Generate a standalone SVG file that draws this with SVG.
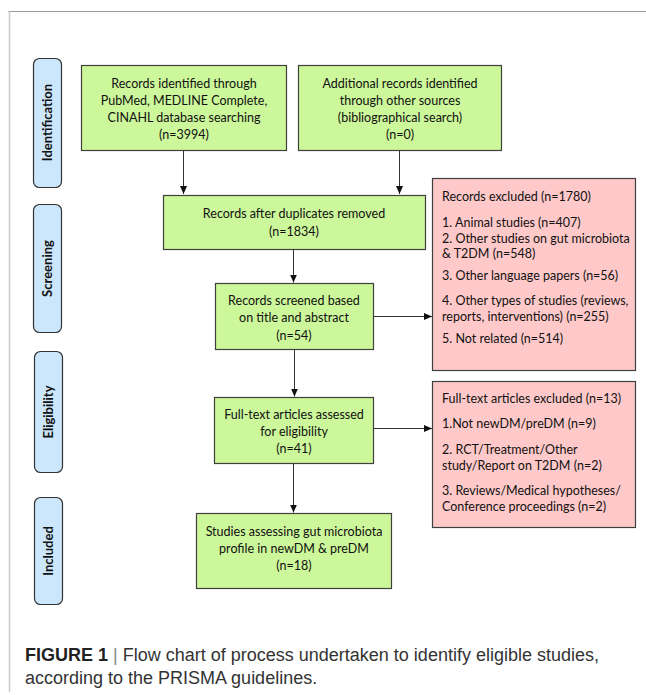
<svg xmlns="http://www.w3.org/2000/svg" width="646" height="695" viewBox="0 0 646 695">
<style>
.g{fill:#ccf79a;stroke:#404040;stroke-width:1.2}
.p{fill:#ffc9c9;stroke:#404040;stroke-width:1.2}
.b{fill:#cce7fb;stroke:#333;stroke-width:1.2}
.t{font-family:Lato,"Open Sans",sans-serif;font-size:12.5px;fill:#111}
.c{text-anchor:middle}
.s{font-family:Lato,"Open Sans",sans-serif;font-size:13px;font-weight:bold;fill:#111;text-anchor:middle}
.cap{font-family:"Liberation Sans",Arial,sans-serif;font-size:18px;fill:#333}
.ln{stroke:#333;stroke-width:1;fill:none}
</style>
<defs>
<marker id="ah" viewBox="0 0 8 8" refX="8" refY="4" markerWidth="8" markerHeight="8" markerUnits="userSpaceOnUse" orient="auto">
<path d="M0,0.5 L8,4 L0,7.5 Z" fill="#111"/>
</marker>
</defs>
<line x1="8" y1="11.5" x2="646" y2="11.5" stroke="#999" stroke-width="1"/>
<line x1="9.5" y1="11" x2="9.5" y2="692" stroke="#ccc" stroke-width="1.5"/>

<g id="lbl-identification"><rect class="b" x="33.5" y="58.5" width="28" height="129" rx="6"/><text class="s" transform="translate(52,122.5) rotate(-90)">Identification</text></g>
<g id="lbl-screening"><rect class="b" x="33.5" y="204.5" width="28" height="128" rx="6"/><text class="s" transform="translate(52,268.5) rotate(-90)">Screening</text></g>
<g id="lbl-eligibility"><rect class="b" x="34.5" y="351.5" width="28" height="121" rx="6"/><text class="s" transform="translate(53,412) rotate(-90)">Eligibility</text></g>
<g id="lbl-included"><rect class="b" x="34.5" y="497.5" width="28" height="107" rx="6"/><text class="s" transform="translate(53,551) rotate(-90)">Included</text></g>

<g id="n-identified"><rect class="g" x="81.5" y="65.5" width="205" height="85"/>
<text class="t c" x="184" y="87.5">Records identified through</text>
<text class="t c" x="184" y="105">PubMed, MEDLINE Complete,</text>
<text class="t c" x="184" y="122">CINAHL database searching</text>
<text class="t c" x="184" y="139">(n=3994)</text></g>

<g id="n-additional"><rect class="g" x="298.5" y="65.5" width="203" height="85"/>
<text class="t c" x="400" y="87.5">Additional records identified</text>
<text class="t c" x="400" y="105">through other sources</text>
<text class="t c" x="400" y="122">(bibliographical search)</text>
<text class="t c" x="400" y="139">(n=0)</text></g>

<g id="n-duplicates"><rect class="g" x="163.5" y="195.5" width="262" height="54"/>
<text class="t c" x="294" y="217.5">Records after duplicates removed</text>
<text class="t c" x="294" y="236">(n=1834)</text></g>

<g id="n-screened"><rect class="g" x="215.5" y="283.5" width="158" height="66"/>
<text class="t c" x="294" y="305">Records screened based</text>
<text class="t c" x="294" y="322">on title and abstract</text>
<text class="t c" x="294" y="339.5">(n=54)</text></g>

<g id="n-fulltext"><rect class="g" x="214.5" y="397.5" width="159" height="66"/>
<text class="t c" x="294" y="419">Full-text articles assessed</text>
<text class="t c" x="294" y="436">for eligibility</text>
<text class="t c" x="294" y="453">(n=41)</text></g>

<g id="n-included"><rect class="g" x="196.5" y="513.5" width="195" height="75"/>
<text class="t c" x="294" y="536">Studies assessing gut microbiota</text>
<text class="t c" x="294" y="553">profile in newDM &amp; preDM</text>
<text class="t c" x="294" y="570">(n=18)</text></g>

<g id="n-excluded1"><rect class="p" x="432.5" y="178.5" width="203" height="192"/>
<text class="t" x="442" y="201">Records excluded (n=1780)</text>
<text class="t" x="442" y="227">1. Animal studies (n=407)</text>
<text class="t" x="442" y="243">2. Other studies on gut microbiota</text>
<text class="t" x="442" y="258">&amp; T2DM (n=548)</text>
<text class="t" x="442" y="279.5">3. Other language papers (n=56)</text>
<text class="t" x="442" y="305">4. Other types of studies (reviews,</text>
<text class="t" x="442" y="320.5">reports, interventions) (n=255)</text>
<text class="t" x="442" y="342.5">5. Not related (n=514)</text></g>

<g id="n-excluded2"><rect class="p" x="432.5" y="381.5" width="203" height="146"/>
<text class="t" x="442" y="402.5">Full-text articles excluded (n=13)</text>
<text class="t" x="442" y="427.5">1.Not newDM/preDM (n=9)</text>
<text class="t" x="442" y="454">2. RCT/Treatment/Other</text>
<text class="t" x="442" y="470">study/Report on T2DM (n=2)</text>
<text class="t" x="442" y="495">3. Reviews/Medical hypotheses/</text>
<text class="t" x="442" y="511">Conference proceedings (n=2)</text></g>

<g id="connectors">
<line class="ln" x1="183.5" y1="150.5" x2="183.5" y2="194" marker-end="url(#ah)"/>
<line class="ln" x1="399.5" y1="150.5" x2="399.5" y2="194" marker-end="url(#ah)"/>
<line class="ln" x1="293.5" y1="249.5" x2="293.5" y2="282.5" marker-end="url(#ah)"/>
<line class="ln" x1="373.5" y1="316.5" x2="432" y2="316.5" marker-end="url(#ah)"/>
<line class="ln" x1="294.5" y1="349.5" x2="294.5" y2="396.5" marker-end="url(#ah)"/>
<line class="ln" x1="373.5" y1="428.5" x2="432" y2="428.5" marker-end="url(#ah)"/>
<line class="ln" x1="293.5" y1="463.5" x2="293.5" y2="512.5" marker-end="url(#ah)"/>
</g>

<text class="cap" x="25" y="661"><tspan font-weight="bold" fill="#222">FIGURE 1</tspan> <tspan fill="#888">|</tspan> Flow chart of process undertaken to identify eligible studies,</text>
<text class="cap" x="25" y="684">according to the PRISMA guidelines.</text>
</svg>
